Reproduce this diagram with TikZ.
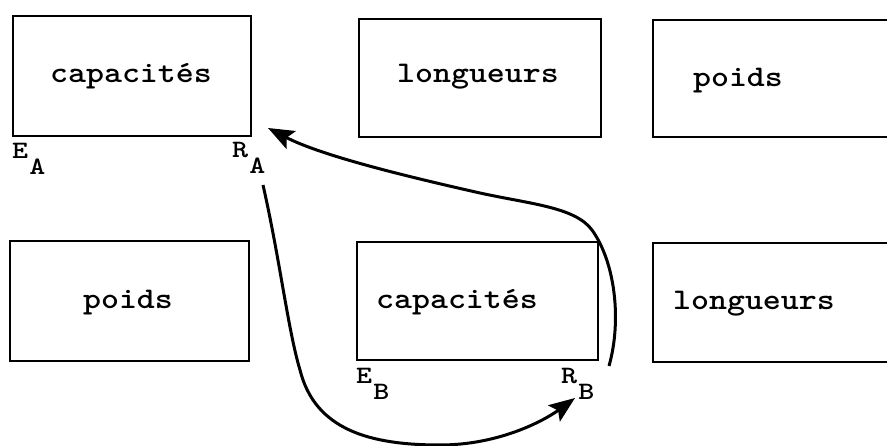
\documentclass[tikz,border=0pt]{standalone}
\usepackage{graphicx}
\usetikzlibrary{arrows.meta}
\tikzset{
  box/.style={draw, line width=2.3pt, inner sep=0pt},
  word/.style={anchor=base, inner sep=0pt, font=\fontsize{30}{30}\selectfont\ttfamily\bfseries},
  lbl/.style={anchor=base west, inner sep=0pt, font=\fontsize{25}{25}\selectfont\ttfamily\bfseries},
  conn/.style={line width=3pt, -{Stealth[length=26pt,width=20pt,inset=5pt]}}
}
\newcommand{\mywd}[1]{\scalebox{1.14}[1]{#1}}
\newcommand{\mylb}[2]{\scalebox{1.22}[1]{#1\kern1pt\raisebox{-16pt}{#2}}}
\begin{document}
\begin{tikzpicture}[x=1pt,y=-1pt]
\clip (0,0) rectangle (887,446);
\fill[white] (0,0) rectangle (887,446);
% boxes
\node[box, minimum width=238pt, minimum height=120pt] (b1) at (132,76) {};
\node[box, minimum width=242pt, minimum height=118pt] (b2) at (480,78) {};
\node[box, minimum width=252pt, minimum height=117pt] (b3) at (779,78.5) {};
\node[box, minimum width=239pt, minimum height=120pt] (b4) at (129.5,301) {};
\node[box, minimum width=241pt, minimum height=118pt] (b5) at (477.5,301) {};
\node[box, minimum width=252pt, minimum height=119pt] (b6) at (779,302.5) {};
% texts
\node[word] (t1) at (131,83) {\mywd{capacités}};
\node[word] (t2) at (478,83) {\mywd{longueurs}};
\node[word] (t3) at (738,87) {\mywd{poids}};
\node[word] (t4) at (128,309) {\mywd{poids}};
\node[word] (t5) at (457,309) {\mywd{capacités}};
\node[word] (t6) at (754,310) {\mywd{longueurs}};
% labels
\node[lbl] (EA) at (12,159) {\mylb{E}{A}};
\node[lbl] (RA) at (232,158) {\mylb{R}{A}};
\node[lbl] (EB) at (356,384) {\mylb{E}{B}};
\node[lbl] (RB) at (561,384) {\mylb{R}{B}};
% connectors
\coordinate (a1s) at (609,366);
\coordinate (a1e) at (268,128);
\coordinate (a2s) at (263,185);
\coordinate (a2e) at (575,398);
\draw[conn] (a1s) .. controls (622,320) and (615,262) .. (592,230)
  .. controls (575,207) and (530,204) .. (480,193)
  .. controls (400,175) and (320,155) .. (a1e);
\draw[conn] (a2s) .. controls (280,260) and (288,330) .. (300,370)
  .. controls (315,430) and (370,445) .. (440,445)
  .. controls (500,445) and (545,420) .. (a2e);
\end{tikzpicture}
\end{document}
